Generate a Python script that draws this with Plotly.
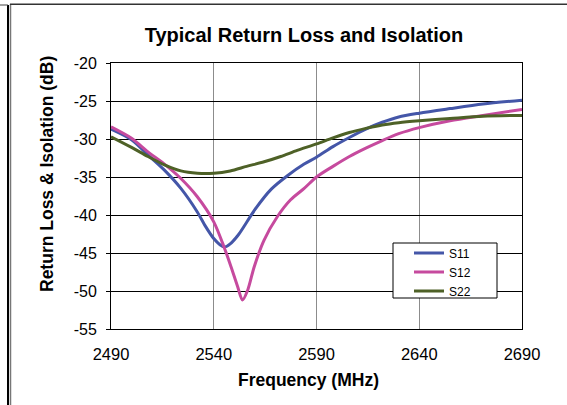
import plotly.graph_objects as go

# --- data ---
s11_freq = [2490, 2500, 2508, 2516, 2524, 2532, 2536, 2540, 2543, 2545.5, 2548, 2552,
            2560, 2568, 2576, 2584, 2590, 2598, 2606, 2614, 2622, 2630, 2640, 2655, 2671, 2690]
s11_db = [-28.7, -30.1, -32.1, -34.1, -36.5, -39.6, -41.5, -43.1, -43.9, -44.2, -43.8, -42.6,
          -39.3, -36.6, -34.8, -33.3, -32.4, -31.0, -29.8, -28.7, -27.8, -27.1, -26.6, -26.0, -25.4, -24.9]

s12_freq = [2490, 2500, 2508, 2516, 2524, 2532, 2540, 2545, 2548.4, 2551.6, 2554, 2556.5,
            2559.7, 2564.5, 2571, 2577.4, 2584, 2590, 2598, 2606, 2614, 2622, 2630, 2640, 2655, 2671, 2690]
s12_db = [-28.4, -29.9, -31.7, -33.3, -35.2, -37.6, -40.9, -44.2, -46.8, -49.4, -51.2, -49.9,
          -46.8, -43.3, -40.2, -38.0, -36.5, -35.0, -33.6, -32.3, -31.2, -30.2, -29.3, -28.5, -27.6, -26.9, -26.1]

s22_freq = [2490, 2500, 2508, 2516, 2524, 2532, 2540, 2548, 2556, 2564.5, 2572.6, 2580.6,
            2590, 2598, 2606, 2614, 2622, 2630, 2640, 2655, 2671, 2690]
s22_db = [-29.7, -31.1, -32.3, -33.4, -34.2, -34.5, -34.5, -34.2, -33.6, -33.0, -32.3, -31.5,
          -30.65, -29.85, -29.15, -28.6, -28.15, -27.85, -27.6, -27.3, -27.0, -26.9]

series_names = ["S11", "S12", "S22"]
series_colors = ["#4456A8", "#C64A9E", "#4E6127"]

x_ticks = [2490, 2540, 2590, 2640, 2690]
y_ticks = [-55, -50, -45, -40, -35, -30, -25, -20]

title_text = "Typical Return Loss and Isolation"
x_title = "Frequency (MHz)"
y_title = "Return Loss & Isolation (dB)"

# --- layout geometry (pixels) ---
W, H = 567, 405
L, R, T, B = 111, 522, 63, 329
pw, ph = R - L, B - T


def px(xp):
    return (xp - L) / pw


def py(yp):
    return (B - yp) / ph


FONT = "Liberation Sans, Arial, sans-serif"

fig = go.Figure()
for name, xs, ys, col in zip(series_names,
                             [s11_freq, s12_freq, s22_freq],
                             [s11_db, s12_db, s22_db],
                             series_colors):
    fig.add_trace(go.Scatter(x=xs, y=ys, name=name, mode="lines",
                             line=dict(color=col, width=3, shape="spline", smoothing=0.8)))

fig.update_layout(
    width=W, height=H,
    margin=dict(l=L, r=W - R, t=T, b=H - B, pad=0),
    paper_bgcolor="white", plot_bgcolor="white",
    font=dict(family=FONT, size=16, color="black"),
    title=dict(text="<b>" + title_text + "</b>", x=304 / W, xref="container", xanchor="center",
               y=1 - 35 / H, yref="container", yanchor="middle",
               font=dict(family=FONT, size=20, color="black")),
    showlegend=True,
    legend=dict(x=px(409), y=py(238.5), xanchor="left", yanchor="top",
                bgcolor="rgba(0,0,0,0)", borderwidth=0,
                font=dict(family=FONT, size=12, color="black"),
                tracegroupgap=0, itemwidth=30),
    xaxis=dict(range=[2490, 2690], tickvals=x_ticks, ticktext=[str(v) for v in x_ticks],
               showgrid=True, gridcolor="#8c8c8c", gridwidth=1,
               showline=True, linecolor="black", linewidth=1, mirror=True,
               ticks="", zeroline=False, ticklabelstandoff=10,
               tickfont=dict(family=FONT, size=16.5, color="black")),
    yaxis=dict(range=[-55, -20], tickvals=y_ticks, ticktext=[str(v) for v in y_ticks],
               showgrid=True, gridcolor="black", gridwidth=1,
               showline=True, linecolor="black", linewidth=1, mirror=True,
               ticks="outside", ticklen=4, tickcolor="black", zeroline=False,
               ticklabelstandoff=6,
               tickfont=dict(family=FONT, size=16, color="black")),
    annotations=[
        dict(text="<b>" + x_title + "</b>", x=px(308), y=py(380), xref="paper", yref="paper",
             showarrow=False, xanchor="center", yanchor="middle",
             font=dict(family=FONT, size=17.5, color="black")),
        dict(text="<b>" + y_title + "</b>", x=px(47), y=py(174), xref="paper", yref="paper",
             showarrow=False, xanchor="center", yanchor="middle", textangle=-90,
             font=dict(family=FONT, size=17.5, color="black")),
    ],
    shapes=[
        # legend box
        dict(type="rect", xref="paper", yref="paper", x0=px(393), x1=px(497), y0=py(298), y1=py(243),
             fillcolor="white", line=dict(color="black", width=1), layer="above"),
        # outer frame lines
        dict(type="line", xref="paper", yref="paper", x0=px(8), x1=px(8), y0=py(5), y1=py(410),
             line=dict(color="black", width=2)),
        dict(type="line", xref="paper", yref="paper", x0=px(0), x1=px(8), y0=py(5), y1=py(5),
             line=dict(color="#444444", width=1)),
        dict(type="line", xref="paper", yref="paper", x0=px(10.5), x1=px(10.5), y0=py(4), y1=py(410),
             line=dict(color="#777777", width=1.5)),
        dict(type="line", xref="paper", yref="paper", x0=px(10), x1=px(570), y0=py(4.3), y1=py(4.3),
             line=dict(color="#333333", width=1.5)),
    ],
)

fig.write_html("out.html", config={"displayModeBar": False},
               post_script="document.body.style.margin='0px';document.body.style.overflow='hidden';")
